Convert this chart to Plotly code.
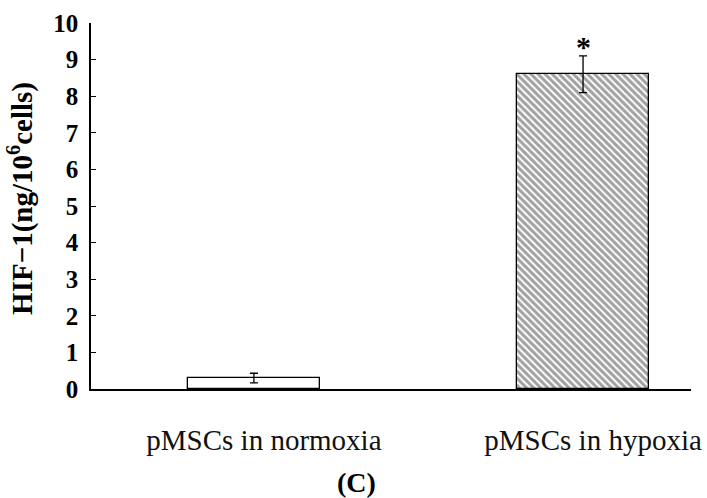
import plotly.graph_objects as go

categories = ["pMSCs in normoxia", "pMSCs in hypoxia"]
values = [0.30, 8.60]
errors = [0.13, 0.50]
fills = ["white", "white"]
hatches = ["", "\\"]
y_ticks = list(range(0, 11))

SERIF = "Liberation Serif, Times New Roman, serif"

fig = go.Figure()
fig.add_trace(go.Bar(
    x=categories, y=values, width=0.40,
    marker=dict(color=fills, line=dict(color="black", width=1.3),
                pattern=dict(shape=hatches, fgcolor="#000000", bgcolor="white",
                             size=5, solidity=0.6)),
    error_y=dict(type="data", array=errors, visible=True, color="black",
                 thickness=1.3, width=4),
    showlegend=False,
))

fig.add_annotation(x=categories[1], y=values[1] + errors[1], text="<b>*</b>",
                   showarrow=False, yanchor="bottom", yshift=-9,
                   font=dict(family=SERIF, size=30, color="black"))

fig.add_annotation(xref="paper", yref="paper", x=-0.118, y=0.52,
                   text="<b>HIF\u22121(ng/10<sup>6</sup>cells)</b>", textangle=-90,
                   showarrow=False, xanchor="center", yanchor="middle",
                   font=dict(family=SERIF, size=29, color="black"))

fig.add_annotation(xref="paper", yref="paper", x=0.443, y=-0.255,
                   text="<b>(C)</b>", showarrow=False,
                   xanchor="center", yanchor="middle",
                   font=dict(family=SERIF, size=28, color="black"))

fig.update_layout(
    width=707, height=498,
    margin=dict(l=91, r=16, t=23, b=109),
    paper_bgcolor="white", plot_bgcolor="white",
    font=dict(family=SERIF, color="black"),
    bargap=0,
)
fig.update_xaxes(
    type="category", range=[-0.495, 1.328], automargin=False,
    showline=True, linecolor="black", linewidth=1.5,
    ticks="", showgrid=False, zeroline=False,
    tickfont=dict(family=SERIF, size=29, color="#111"),
    ticklabelstandoff=24, ticklabelshift=10,
)
fig.update_yaxes(
    range=[0, 10], tickvals=y_ticks, automargin=False,
    ticktext=[f"<b>{t}</b>" for t in y_ticks],
    showline=True, linecolor="black", linewidth=1.5,
    ticks="inside", ticklen=5, tickwidth=1.2, tickcolor="black",
    showgrid=False, zeroline=False,
    tickfont=dict(family=SERIF, size=25, color="black"),
    ticklabelstandoff=6,
)

fig.write_html("out.html")
